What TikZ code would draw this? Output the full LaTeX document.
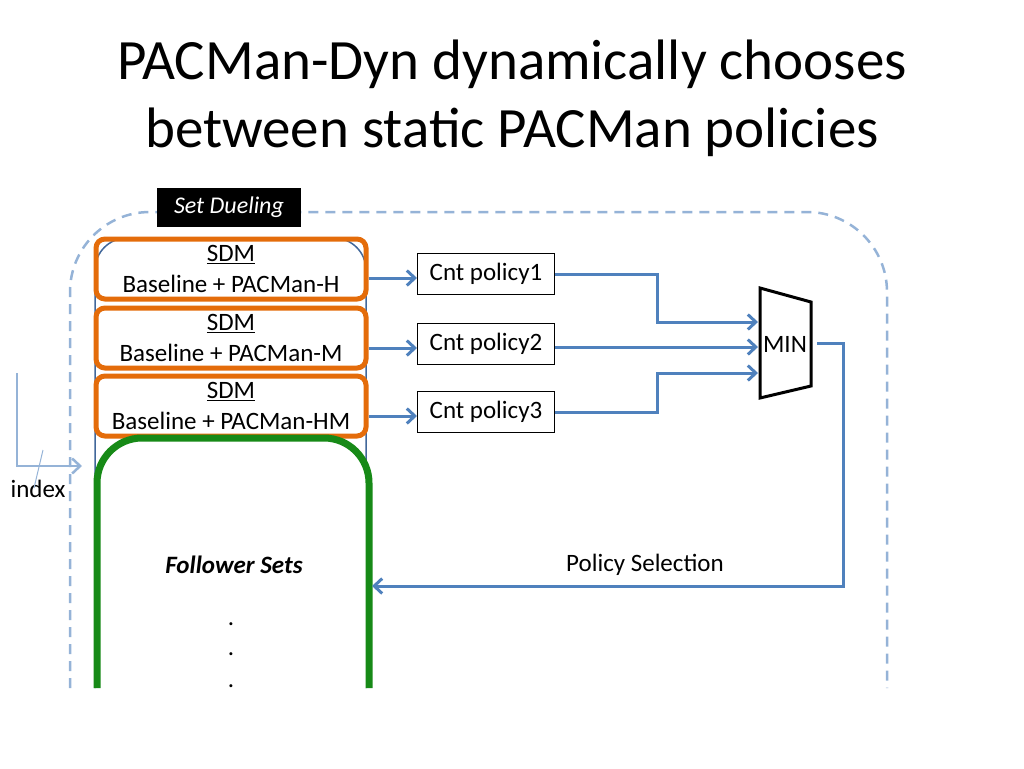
\documentclass[tikz,border=0pt]{standalone}
\usepackage{fontspec}
\setmainfont{Carlito}
\usetikzlibrary{arrows.meta}
\definecolor{linkblue}{HTML}{4F81BD}
\definecolor{dashblue}{HTML}{95B3D7}
\definecolor{colblue}{HTML}{41679A}
\definecolor{sdmorange}{HTML}{E46C0A}
\definecolor{follgreen}{HTML}{178A17}
\tikzset{
  sdm/.style={draw=sdmorange,line width=5pt,rounded corners=9pt,minimum width=270pt,
    minimum height=60pt,align=center,inner sep=0pt},
  cnt/.style={draw,line width=1pt,minimum width=137pt,minimum height=41pt,inner sep=0pt},
  link/.style={linkblue,line width=3pt,-{Straight Barb[length=8pt,width=15pt,line width=3pt]}},
  idx/.style={dashblue,line width=2.5pt,-{Straight Barb[length=8pt,width=15pt,line width=2.5pt]}}
}
\begin{document}
\begin{tikzpicture}[x=1pt,y=-1pt,font=\fontsize{25}{31}\selectfont]
  \useasboundingbox (0,0) rectangle (1024,768);
  \node[align=center,font=\fontsize{57}{68}\selectfont] (title) at (512,98)
    {PACMan-Dyn dynamically chooses\\between static PACMan policies};
  % set dueling frame
  \draw[dashblue,line width=2.5pt,dash pattern=on 10pt off 7pt,rounded corners=80pt]
    (70,688) -- (70,212) -- (887,212) -- (887,688);
  \node[fill=black,text=white,font=\fontsize{24}{28}\selectfont\itshape,
    minimum width=144pt,minimum height=39pt,inner sep=0pt] (duel) at (229,207) {Set Dueling};
  % cache sets
  \draw[colblue,line width=1.5pt,fill=white,rounded corners=32pt]
    (95,688) -- (95,238) -- (366,238) -- (366,688);
  \draw
    (231,269) node[sdm] (sdm1){\underline{SDM}\\Baseline + PACMan-H}
    (231,338) node[sdm] (sdm2){\underline{SDM}\\Baseline + PACMan-M}
    (231,406) node[sdm] (sdm3){\underline{SDM}\\Baseline + PACMan-HM};
  \draw[follgreen,line width=7pt,fill=white,rounded corners=45pt]
    (97,688) -- (97,438) -- (369,438) -- (369,688);
  \draw
    (234,565) node[font=\fontsize{25}{31}\selectfont\bfseries\itshape] (foll){Follower Sets}
    (231,624) node (dot1){.}
    (231,654) node (dot2){.}
    (231,686) node (dot3){.};
  % counters
  \draw
    (486,274) node[cnt] (cnt1){Cnt policy1}
    (486,344) node[cnt] (cnt2){Cnt policy2}
    (486,412) node[cnt] (cnt3){Cnt policy3};
  % min
  \draw[line width=3pt] (760,288) -- (811,302) -- (811,386) -- (760,398) -- cycle;
  \draw
    (785,344) node (min){MIN}
    (645,565) node (sel){Policy Selection}
    (38,489) node (index){index};
  \coordinate (min1) at (758,322);
  \coordinate (min2) at (758,347);
  \coordinate (min3) at (758,373);
  \coordinate (minout) at (817,343);
  \coordinate (follin) at (372,586);
  \coordinate (idxin) at (17,373);
  \coordinate (idxout) at (82,466);
  \coordinate (idxa) at (34,488);
  \coordinate (idxb) at (43,450);
  \begin{scope}[link]
    \draw ([yshift=-4pt]cnt1.west -| sdm1.east) -- ([yshift=-4pt]cnt1.west);
    \draw ([yshift=-4pt]cnt2.west -| sdm2.east) -- ([yshift=-4pt]cnt2.west);
    \draw ([yshift=-4pt]cnt3.west -| sdm3.east) -- ([yshift=-4pt]cnt3.west);
    \draw (cnt1.east) -- ++(102,0) |- (min1);
    \draw (cnt2.east |- min2) -- (min2);
    \draw (cnt3.east) -- ++(102,0) |- (min3);
    \draw (minout) -- ++(26,0) |- (follin);
  \end{scope}
  \draw[idx] (idxin) |- (idxout);
  \draw[dashblue,line width=1pt] (idxa) -- (idxb);
\end{tikzpicture}
\end{document}
